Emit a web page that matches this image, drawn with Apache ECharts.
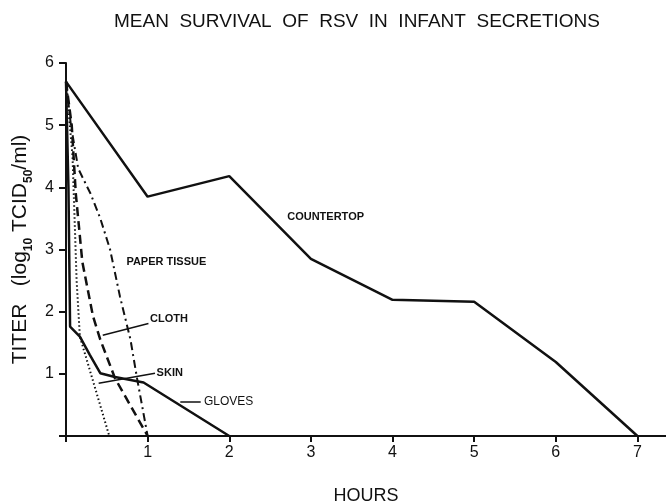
<!DOCTYPE html>
<html>
<head>
<meta charset="utf-8">
<script src="https://cdn.jsdelivr.net/npm/echarts@6/dist/echarts.min.js"></script>
<style>
  html, body { margin: 0; padding: 0; background: #fff; }
  #main { width: 666px; height: 502px; }
</style>
</head>
<body>
<div id="main"></div>
<script>
// values: [hours, log10 TCID50/ml]
var countertop = [[0, 5.7], [1, 3.85], [2, 4.18], [3, 2.85], [4, 2.19], [5, 2.16], [6, 1.19], [7, 0]];
var gloves = [[0, 5.7], [0.03, 4.0], [0.05, 1.76], [0.17, 1.6], [0.29, 1.31], [0.42, 1.01], [0.6, 0.95], [0.95, 0.86], [2, 0]];
var cloth = [[0, 5.7], [0.07, 5.0], [0.12, 3.9], [0.2, 2.8], [0.33, 1.93], [0.42, 1.55], [0.6, 0.93], [1, 0]];
var paperTissue = [[0, 5.7], [0.06, 5.0], [0.15, 4.3], [0.3, 3.9], [0.42, 3.5], [0.54, 3.0], [0.66, 2.25], [0.79, 1.55], [0.87, 0.93], [1, 0]];
var skin = [[0, 5.7], [0.08, 4.5], [0.13, 2.5], [0.17, 1.6], [0.53, 0]];

var myChart = echarts.init(document.getElementById('main'));

var lbl = {fontFamily: 'Liberation Sans', fontSize: 11, fontWeight: 'bold', color: '#111'};

function line(name, data, type, width, extra) {
    var s = {
        name: name,
        type: 'line',
        data: data,
        symbol: 'none',
        silent: true,
        lineStyle: {color: '#111', width: width, type: type}
    };
    if (extra) for (var k in extra) s[k] = extra[k];
    return s;
}

function note(text, x, y, style) {
    return {coord: [x, y], value: text, label: Object.assign({show: true, position: 'right', distance: 0, formatter: text}, style)};
}

// hide the 0 label on both axes
function noZero(v) { return v === 0 ? '' : String(v); }

var option = {
    animation: false,
    title: {
        text: 'MEAN  SURVIVAL  OF  RSV  IN  INFANT  SECRETIONS',
        left: 109,
        top: 7,
        textStyle: {fontFamily: 'Liberation Sans', fontSize: 19, fontWeight: 'normal', color: '#111'}
    },
    grid: {left: 66, right: 0, top: 63, bottom: 66, containLabel: false, outerBoundsMode: 'none'},
    xAxis: {
        type: 'value',
        min: 0,
        max: 7.35,
        interval: 1,
        name: 'HOURS',
        nameLocation: 'middle',
        nameGap: 51,
        nameTextStyle: {fontFamily: 'Liberation Sans', fontSize: 18, color: '#111'},
        axisLine: {lineStyle: {color: '#111', width: 2}},
        axisTick: {show: true, length: 6, lineStyle: {color: '#111', width: 2}},
        axisLabel: {formatter: noZero, showMaxLabel: false, margin: 9, fontFamily: 'Liberation Sans', fontSize: 16, color: '#111'},
        splitLine: {show: false}
    },
    yAxis: {
        type: 'value',
        min: 0,
        max: 6,
        interval: 1,
        name: '{m|TITER   (log}{s|10}{m| TCID}{s|50}{m|/ml)}',
        nameLocation: 'middle',
        nameRotate: 90,
        nameGap: 33,
        nameTextStyle: {
            rich: {
                m: {fontFamily: 'Liberation Sans', fontSize: 21, color: '#111', lineHeight: 24, verticalAlign: 'bottom'},
                s: {fontFamily: 'Liberation Sans', fontSize: 12, fontWeight: 'bold', color: '#111', lineHeight: 14, verticalAlign: 'bottom', padding: [0, 0, -3, 0]}
            }
        },
        axisLine: {show: true, lineStyle: {color: '#111', width: 2}},
        axisTick: {show: true, length: 7, lineStyle: {color: '#111', width: 2}},
        axisLabel: {formatter: noZero, margin: 12, fontFamily: 'Liberation Sans', fontSize: 16, color: '#111'},
        splitLine: {show: false}
    },
    series: [
        line('COUNTERTOP', countertop, 'solid', 2.5, {
            markPoint: {
                symbol: 'circle', symbolSize: 0,
                data: [
                    note('COUNTERTOP', 2.71, 3.52, lbl),
                    note('PAPER TISSUE', 0.74, 2.8, lbl),
                    note('CLOTH', 1.03, 1.88, lbl),
                    note('SKIN', 1.11, 1.01, lbl),
                    note('GLOVES', 1.69, 0.55, {fontFamily: 'Liberation Sans', fontSize: 12, color: '#111'})
                ]
            },
            markLine: {
                symbol: 'none',
                silent: true,
                label: {show: false},
                lineStyle: {color: '#111', width: 1.5, type: 'solid'},
                data: [
                    [{coord: [0.45, 1.62]}, {coord: [1.01, 1.81]}],
                    [{coord: [0.40, 0.85]}, {coord: [1.09, 1.01]}],
                    [{coord: [1.40, 0.55]}, {coord: [1.65, 0.55]}]
                ]
            }
        }),
        line('GLOVES', gloves, 'solid', 2.5),
        line('CLOTH', cloth, [9, 5], 2.5),
        line('PAPER TISSUE', paperTissue, [8, 4, 2, 4], 2),
        line('SKIN', skin, [1.5, 2.5], 2)
    ]
};

myChart.setOption(option);
</script>
</body>
</html>
